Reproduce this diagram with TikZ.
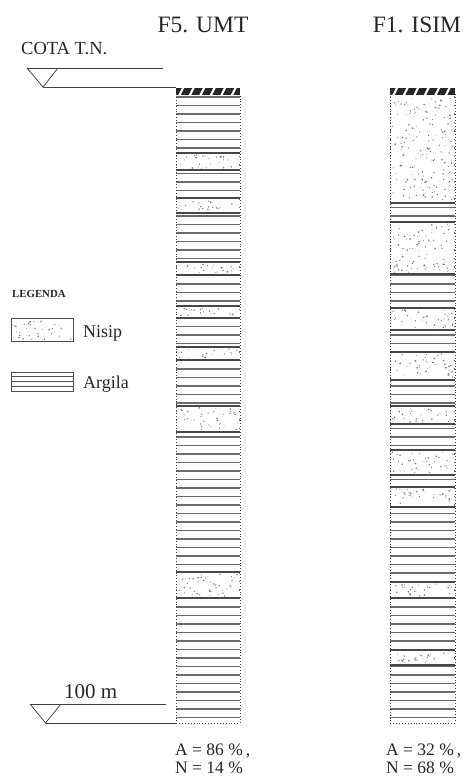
\documentclass[tikz,border=0pt]{standalone}
\usepackage{fontspec}
\setmainfont{Liberation Serif}
\definecolor{clayc}{gray}{0.42}
\definecolor{dotc}{gray}{0.45}
\definecolor{boundc}{gray}{0.28}
\tikzset{
  clay/.style={draw=clayc, line width=1.35pt},
  bound/.style={draw=boundc, line width=1.5pt},
  colborder/.style={draw=black!75, line width=0.9pt, dotted},
  level/.style={draw=black!75, line width=0.75pt},
  legbox/.style={draw=black!70, line width=0.8pt},
  txt/.style={anchor=base west, inner sep=0, text=black!85},
}
\newcommand\stipple[4]{%
  \pgfmathtruncatemacro\nd{(#2-#1)*(#4-#3)/42}%
  \foreach \i in {1,...,\nd}{%
    \pgfmathsetmacro\px{#1+2+rnd*(#2-#1-4)}%
    \pgfmathsetmacro\py{#3+1.8+rnd*(#4-#3-3.6)}%
    \pgfmathsetmacro\pr{0.4+0.5*rnd}%
    \fill[dotc] (\px,\py) circle[radius=\pr pt];
  }%
}
\newcommand\sandlayer[4]{%
  \fill[white] (#1+0.6,#3) rectangle (#2-0.6,#4);
  \stipple{#1}{#2}{#3}{#4}
  \draw[bound] (#1,#3) -- (#2,#3);
  \draw[bound] (#1,#4) -- (#2,#4);
}
\newcommand\hatchcap[2]{%
  \begin{scope}
    \clip (#1,88) rectangle (#2,94.6);
    \fill[black!85] (#1,88) rectangle (#2,94.6);
    \foreach \k in {0,...,6} \draw[white,line width=2.2pt] ({#1+3+10.5*\k},96) -- ({#1+8+10.5*\k},86);
  \end{scope}
}
\begin{document}
\begin{tikzpicture}[x=1pt,y=-1pt]
\pgfmathsetseed{2024}
\useasboundingbox (0,0) rectangle (467,776);

% titles
\node[anchor=base, font=\fontsize{23.5}{26}\selectfont, inner sep=0, text=black!85] (t5) at (203,33) {F5. UMT};
\node[anchor=base, font=\fontsize{23.5}{26}\selectfont, inner sep=0, text=black!85] (t1) at (417,33) {F1. ISIM};

% ground level (COTA T.N.)
\node[txt, font=\fontsize{18.5}{20}\selectfont] (cota) at (21,55) {COTA T.N.};
\coordinate (g1) at (27,68);
\coordinate (g2) at (58,68);
\coordinate (g3) at (43,87);
\coordinate (g4) at (163,68);
\coordinate (g5) at (176,87);
\draw[level] (g1) -- (g3) -- (g2);
\draw[level] (g1) -- (g4);
\draw[level] (g3) -- (g5);

% 100 m level
\node[txt, font=\fontsize{21}{24}\selectfont] (hundred) at (64,698) {100 m};
\coordinate (h1) at (30,704);
\coordinate (h2) at (61,704);
\coordinate (h3) at (45.5,723);
\coordinate (h4) at (166,704);
\coordinate (h5) at (176,723);
\draw[level] (h1) -- (h3) -- (h2);
\draw[level] (h1) -- (h4);
\draw[level] (h3) -- (h5);

% legend
\node[txt, font=\fontsize{10.8}{12}\selectfont\bfseries] (legenda) at (12,297) {LEGENDA};
\stipple{11}{73}{318}{341}
\draw[legbox] (11,318) rectangle (73,341);
\node[txt, font=\fontsize{18}{20}\selectfont] (nisip) at (83,337) {Nisip};
\foreach \yy in {376.75,381.5,386.25} \draw[black!70,line width=0.7pt] (11,\yy) -- (73,\yy);
\draw[legbox] (11,372) rectangle (73,391);
\node[txt, font=\fontsize{18}{20}\selectfont] (argila) at (83,388) {Argila};

% ---- column F5 ----
\foreach \k in {0,...,73} \draw[clay] (176,{97+8.5*\k}) -- (240,{97+8.5*\k});
\sandlayer{176}{240}{153}{170}
\sandlayer{176}{240}{198}{213}
\sandlayer{176}{240}{262}{275}
\sandlayer{176}{240}{306}{318}
\sandlayer{176}{240}{347}{360}
\sandlayer{176}{240}{406}{432}
\sandlayer{176}{240}{572}{598}
\hatchcap{176}{240}
\draw[colborder] (176,94) -- (176,723) -- (240,723) -- (240,94);

% ---- column F1 ----
\foreach \k in {0,...,73} \draw[clay] (390,{97+8.5*\k}) -- (455,{97+8.5*\k});
\sandlayer{390}{455}{93}{203}
\sandlayer{390}{455}{222}{274}
\sandlayer{390}{455}{308}{330}
\sandlayer{390}{455}{352}{380}
\sandlayer{390}{455}{406}{424}
\sandlayer{390}{455}{450}{475}
\sandlayer{390}{455}{487}{507}
\sandlayer{390}{455}{582}{598}
\sandlayer{390}{455}{650}{665}
\hatchcap{390}{455}
\draw[colborder] (390,94) -- (390,723) -- (455,723) -- (455,94);

% percentages
\node[txt, font=\fontsize{17.5}{20}\selectfont] (a5) at (175,755) {A = 86 \%\,,};
\node[txt, font=\fontsize{17.5}{20}\selectfont] (n5) at (175,773) {N = 14 \%};
\node[txt, font=\fontsize{17.5}{20}\selectfont] (a1) at (386,755) {A = 32 \%\,,};
\node[txt, font=\fontsize{17.5}{20}\selectfont] (n1) at (386,773) {N = 68 \%};
\end{tikzpicture}
\end{document}
